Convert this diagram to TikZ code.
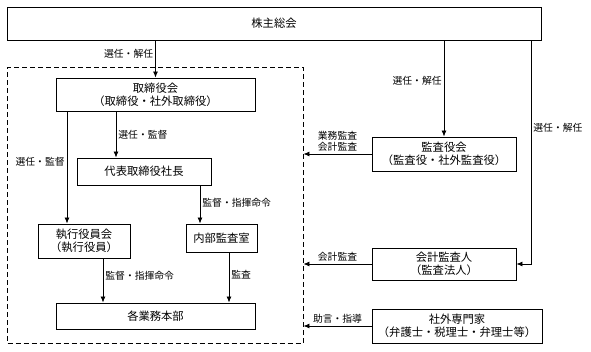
\documentclass[tikz,border=0pt]{standalone}
\usepackage{fontspec}
\setmainfont{Noto Sans CJK JP}
\usepackage{tikz}
\usetikzlibrary{arrows.meta,positioning,calc}

\begin{document}
\begin{tikzpicture}[
    x=1pt, y=-1pt,
    orgBox/.style={
        rectangle, draw=black, line width=0.9pt,
        fill=white, font=\fontsize{11.3}{13}\selectfont, align=center,
        inner sep=1pt
    },
    groupFrame/.style={
        rectangle, draw=black, line width=0.9pt,
        dash pattern=on 5pt off 3pt, inner sep=0pt
    },
    orgArrow/.style={
        -{Latex[length=6pt,width=5pt]}, line width=0.8pt, draw=black
    },
    orgLine/.style={
        line width=0.8pt, draw=black
    },
    orgLabel/.style={
        font=\fontsize{9.8}{11.5}\selectfont, align=center, inner sep=2pt
    }
]
    \useasboundingbox (0,0) rectangle (591,351);

    % Company frame
    \node[groupFrame, minimum width=295.5pt, minimum height=276pt] (company) at (155.25,205) {};

    % Boxes
    \node[orgBox, minimum width=534pt, minimum height=33pt] (meeting) at (274,23.5) {株主総会};

    \node[orgBox, minimum width=199pt, minimum height=33pt] (board) at (155.5,94.5)
        {取締役会\\（取締役・社外取締役）};

    \node[orgBox, minimum width=134pt, minimum height=27pt] (president) at (144,171.5)
        {代表取締役社長};

    \node[orgBox, minimum width=92pt, minimum height=34pt] (officers) at (84,241)
        {執行役員会\\（執行役員）};

    \node[orgBox, minimum width=71pt, minimum height=28pt] (internal) at (221.5,238)
        {内部監査室};

    \node[orgBox, minimum width=199pt, minimum height=26pt] (divisions) at (155.5,316)
        {各業務本部};

    \node[orgBox, minimum width=144pt, minimum height=34pt] (auditors) at (444,154)
        {監査役会\\（監査役・社外監査役）};

    \node[orgBox, minimum width=144pt, minimum height=32pt] (accountant) at (444,264)
        {会計監査人\\（監査法人）};

    \node[orgBox, minimum width=170pt, minimum height=34pt] (experts) at (457,326)
        {社外専門家\\（弁護士・税理士・弁理士等）};

    % Connectors
    \draw[orgArrow] (meeting.south -| board.north) -- node[orgLabel, left, pos=0.35] {選任・解任} (board.north);

    \draw[orgArrow] (board.south -| 116,0) -- node[orgLabel, right, pos=0.5] {選任・監督} (president.north -| 116,0);
    \draw[orgArrow] (board.south -| 67,0) -- node[orgLabel, left, pos=0.45] {選任・監督} (officers.north -| 67,0);

    \draw[orgArrow] (president.south -| 200,0) -- node[orgLabel, right, pos=0.45] {監督・指揮命令} (internal.north -| 200,0);

    \draw[orgArrow] (officers.south -| 103,0) -- node[orgLabel, right, pos=0.4] {監督・指揮命令} (divisions.north -| 103,0);
    \draw[orgArrow] (internal.south -| 229,0) -- node[orgLabel, right, pos=0.45] {監査} (divisions.north -| 229,0);

    \draw[orgArrow] (meeting.south -| auditors.north) -- node[orgLabel, left, pos=0.42] {選任・解任} (auditors.north);
    \draw[orgArrow] (meeting.south -| 531,0) |- node[orgLabel, right, pos=0.195] {選任・解任} (accountant.east);

    \draw[orgArrow] (auditors.west) -- node[orgLabel, above] {業務監査\\会計監査} (auditors.west -| company.east);
    \draw[orgArrow] (accountant.west) -- node[orgLabel, above] {会計監査} (accountant.west -| company.east);
    \draw[orgArrow] (experts.west) -- node[orgLabel, above] {助言・指導} (experts.west -| company.east);

\end{tikzpicture}
\end{document}
